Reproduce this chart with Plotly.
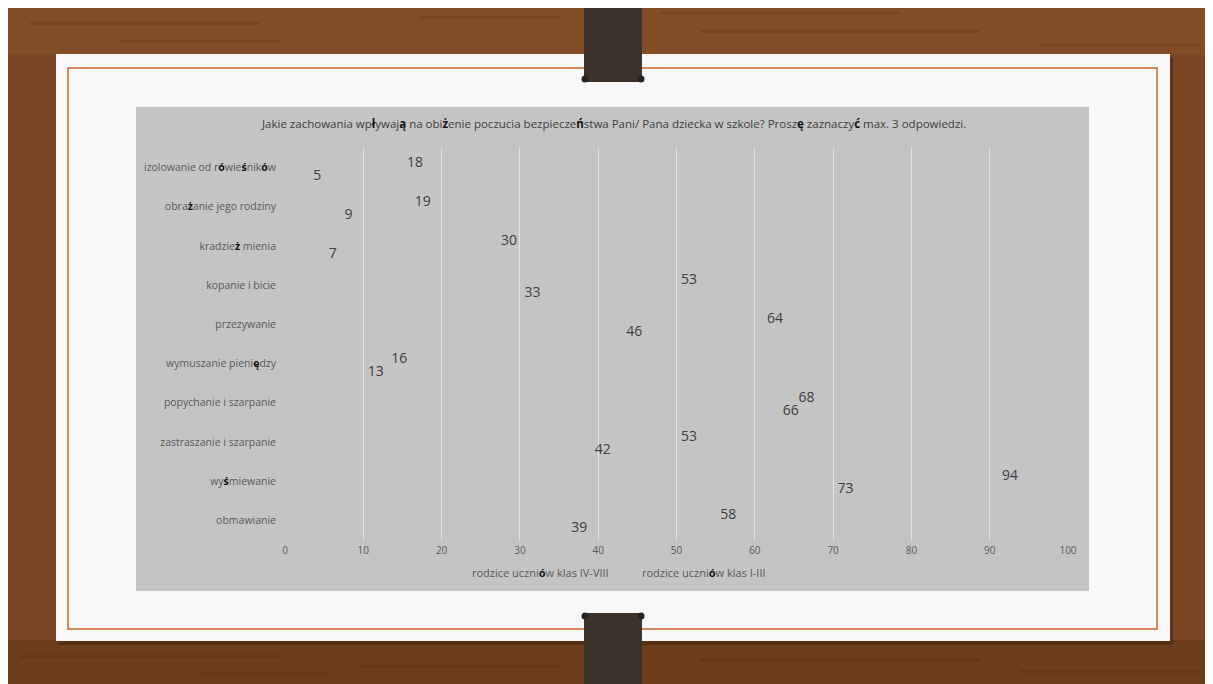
import plotly.graph_objects as go

# ---- data (bottom-to-top category order, as in the source sheet) ----
categories = [
    "obmawianie",
    "wyśmiewanie",
    "zastraszanie i szarpanie",
    "popychanie i szarpanie",
    "wymuszanie pieniędzy",
    "przezywanie",
    "kopanie i bicie",
    "kradzież mienia",
    "obrażanie jego rodziny",
    "izolowanie od rówieśników",
]
series_names = ["rodzice uczniów klas IV-VIII", "rodzice uczniów klas I-III"]
values_iv_viii = [39, 73, 42, 66, 13, 46, 33, 7, 9, 5]
values_i_iii = [58, 94, 53, 68, 16, 64, 53, 30, 19, 18]
x_ticks = [0, 10, 20, 30, 40, 50, 60, 70, 80, 90, 100]
title_text = ("Jakie zachowania wpływają na obiżenie poczucia bezpieczeństwa "
              "Pani/ Pana dziecka w szkole? Proszę zaznaczyć max. 3 odpowiedzi.")

W, H = 1213, 684
OFF = 8  # page body margin: screenshot px = figure px + 8
L, R, T, B = 285 - OFF, 1068 - OFF, 148 - OFF, 540 - OFF  # plot area (figure px)

FONT = "Liberation Sans Narrow, Open Sans, sans-serif"


def fx(px):  # px given in screenshot coordinates
    return (px - OFF - L) / (R - L)


def fy(py):
    return (B - (py - OFF)) / (B - T)


def boldify(s):
    out = []
    for ch in s:
        if ord(ch) > 127:
            out.append("<b><span style='color:#111'>" + ch + "</span></b>")
        else:
            out.append(ch)
    return "".join(out)


fig = go.Figure()
for name, vals in zip(series_names, [values_iv_viii, values_i_iii]):
    fig.add_trace(go.Bar(
        y=categories, x=vals, orientation="h", name=boldify(name),
        marker=dict(color="rgba(0,0,0,0)", line=dict(width=0)),
        text=[str(v) for v in vals], textposition="inside",
        insidetextanchor="end", constraintext="none", textangle=0,
        insidetextfont=dict(family=FONT, size=14, color="#404040"),
        hoverinfo="skip", cliponaxis=False,
    ))

shapes = []


def rect(x0, y0, x1, y1, color, line=None, layer="below", opacity=1):
    shapes.append(dict(type="rect", xref="paper", yref="paper",
                       x0=fx(x0), x1=fx(x1), y0=fy(y1), y1=fy(y0),
                       fillcolor=color, opacity=opacity,
                       line=line or dict(width=0), layer=layer))


# wood background
rect(0, 0, W + 20, H + 20, "#7a4522")
rect(0, 0, W + 20, 55, "#86502a", opacity=0.7)
rect(0, 640, W + 20, H + 20, "#6a3b1c", opacity=0.8)
# grain streaks
for (x0, y0, x1, y1) in [(30, 22, 260, 25), (420, 16, 560, 19), (700, 30, 980, 33),
                         (1040, 44, 1200, 47), (120, 40, 280, 42), (20, 655, 280, 658),
                         (360, 665, 560, 668), (700, 658, 980, 661), (1020, 670, 1200, 673),
                         (660, 12, 900, 14), (200, 672, 330, 675)]:
    rect(x0, y0, x1, y1, "#4e2a12", opacity=0.22)
# paper shadow + paper
rect(58, 57, 1173, 645, "#3a2412", opacity=0.45)
rect(56, 54, 1170, 641, "#f8f8f8")
# orange frame
rect(68, 68, 1157, 629, "rgba(0,0,0,0)", line=dict(color="#c8642a", width=1.5))
# grey chart box
rect(136, 107, 1089, 591, "#c4c4c4")
# straps
rect(584, 0, 642, 82, "#3c332c", layer="above")
rect(584, 613, 642, H + 20, "#3c332c", layer="above")
for cx, cy in [(585, 79), (641, 79), (585, 616), (641, 616)]:
    shapes.append(dict(type="circle", xref="paper", yref="paper",
                       x0=fx(cx - 3.5), x1=fx(cx + 3.5), y0=fy(cy + 3.5), y1=fy(cy - 3.5),
                       fillcolor="#2a221d", line=dict(width=0), layer="above"))

fig.update_layout(
    width=W, height=H,
    margin=dict(l=L, r=W - R, t=T, b=H - B, pad=0),
    paper_bgcolor="#7a4522", plot_bgcolor="rgba(0,0,0,0)",
    barmode="group", bargap=0.34, bargroupgap=0,
    shapes=shapes,
    font=dict(family=FONT, color="#595959"),
    showlegend=True,
    legend=dict(orientation="h", x=fx(472) - 40 / (R - L), xanchor="left",
                y=fy(573), yanchor="middle",
                font=dict(family=FONT, size=11, color="#595959"),
                bgcolor="rgba(0,0,0,0)", entrywidth=125, entrywidthmode="pixels",
                itemwidth=30),
    annotations=[dict(text=boldify(title_text), xref="paper", yref="paper",
                      x=fx(613), y=fy(124), xanchor="center", yanchor="middle",
                      showarrow=False,
                      font=dict(family=FONT, size=11.5, color="#404040"))],
    xaxis=dict(range=[0, 100], tickvals=x_ticks, showgrid=True, gridcolor="#e2e2e2",
               gridwidth=1, zeroline=False, showline=False, ticklabelstandoff=3,
               tickfont=dict(family=FONT, size=10, color="#595959"), fixedrange=True),
    yaxis=dict(categoryorder="array", categoryarray=categories,
               tickvals=categories, ticktext=[boldify(c) for c in categories],
               showgrid=False, zeroline=False, showline=False,
               ticklabelstandoff=8,
               tickfont=dict(family=FONT, size=10.5, color="#595959"), fixedrange=True),
)

fig.write_html("out.html")
